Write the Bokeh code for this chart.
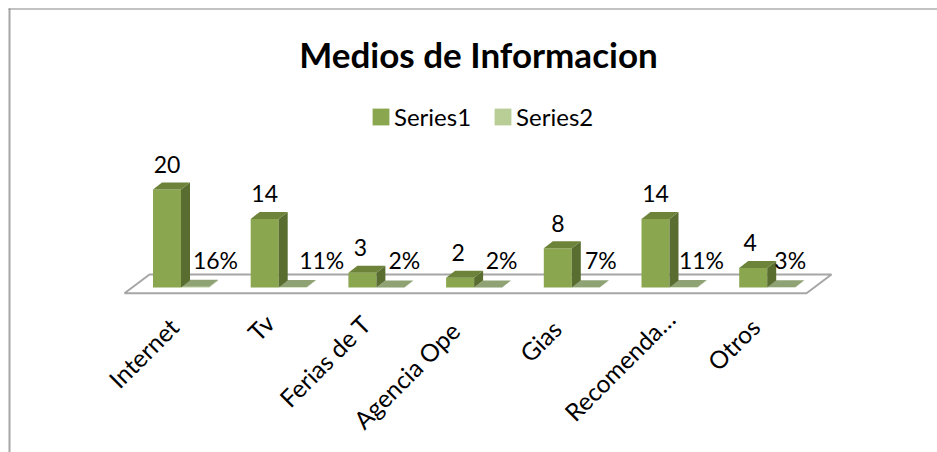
from bokeh.plotting import figure
from bokeh.models import Range1d, Legend, LegendItem
from bokeh.core.properties import value
from bokeh.embed import file_html
from bokeh.resources import INLINE

title_text = "Medios de Informacion"
categories = ["Internet", "Tv", "Ferias de T", "Agencia Ope", "Gias", "Recomenda…", "Otros"]
series1 = [20, 14, 3, 2, 8, 14, 4]
series2 = [0.16, 0.11, 0.02, 0.02, 0.07, 0.11, 0.03]
series2_labels = ["16%", "11%", "2%", "2%", "7%", "11%", "3%"]
series_names = ["Series1", "Series2"]

W, H = 937, 452
PX_X = 97.7   # px per category
PX_Y = 4.9    # px per unit
FONT = "Lato"

# hand placement of the labels, in pixels
s1_label_dx = [0, 0, -2, -2, 0, 0, -3]
s2_label_dx = [48.5, 57, 42, 41.5, 43, 46, 37]
cat_label_dx = [7, 5, 4, -5, -1, 15, 2]
cat_label_dy = [35, 31, 32, 39, 37, 27, 35]

def dx(px): return px / PX_X
def dy(px): return px / PX_Y
def page_x(px): return (px - 166.5) / PX_X
def page_y(px): return (287 - px) / PX_Y

p = figure(width=W, height=H, output_backend="svg", toolbar_location=None,
           x_range=Range1d(page_x(0), page_x(W)), y_range=Range1d(page_y(H), page_y(0)),
           min_border=0, outline_line_color=None, background_fill_color="white")
p.axis.visible = False
p.grid.visible = False

# chart border (top and left only)
p.line([page_x(9), page_x(9)], [page_y(8), page_y(H)], line_color="#a6a6a6", line_width=2)
p.line([page_x(8), page_x(W)], [page_y(8.5), page_y(8.5)], line_color="#868686", line_width=1)

# floor
fl, fr = page_x(124), page_x(806)
fdx, fy, by = dx(25), page_y(292.8), page_y(274)
p.patch([fl, fr, fr + fdx, fl + fdx], [fy, fy, by, by], fill_color="white",
        line_color="#a6a6a6", line_width=2)

bw = dx(28)
ox, oy = dx(9), dy(7)
xs = list(range(len(categories)))

def draw(vals, shift, front, side, top):
    lefts = [x - bw / 2 + shift for x in xs]
    r = p.quad(left=lefts, right=[l + bw for l in lefts], bottom=0, top=vals,
               fill_color=front, line_color=None)
    p.patches([[l + bw, l + bw + ox, l + bw + ox, l + bw] for l in lefts],
              [[0, oy, v + oy, v] for v in vals], fill_color=side, line_color=None)
    p.patches([[l, l + bw, l + bw + ox, l + ox] for l in lefts],
              [[v, v, v + oy, v + oy] for v in vals], fill_color=top, line_color=None)
    return r

r2 = draw(series2, bw, "#b9cd96", "#8ea274", "#8ea274")
r1 = draw(series1, 0, "#8aa64f", "#5a6d31", "#6c8339")

# data labels
p.text([x + dx(d) for x, d in zip(xs, s1_label_dx)], series1, text=[str(v) for v in series1],
       text_font=value(FONT), text_font_size="23px", text_color="#000000",
       text_align="center", text_baseline="middle", y_offset=-25)
p.text([x + dx(d) for x, d in zip(xs, s2_label_dx)], [0] * len(xs), text=series2_labels,
       text_font=value(FONT), text_font_size="23px", text_color="#000000",
       text_align="center", text_baseline="middle", y_offset=-28)

# category labels
p.text([x + dx(d) for x, d in zip(xs, cat_label_dx)], [dy(-d) for d in cat_label_dy],
       text=categories, text_font=value(FONT), text_font_size="24.5px", text_color="#000000",
       text_align="right", text_baseline="middle", angle=45, angle_units="deg")

# title
p.text([page_x(478)], [page_y(53)], text=[title_text], text_font=value(FONT),
       text_font_size="35px", text_font_style="bold", text_color="#000000",
       text_align="center", text_baseline="middle")

legend = Legend(items=[LegendItem(label=series_names[0], renderers=[r1]),
                       LegendItem(label=series_names[1], renderers=[r2])],
                orientation="horizontal", location=(370, 321), background_fill_alpha=0,
                border_line_color=None, glyph_width=21, glyph_height=21, label_text_font=FONT,
                label_text_font_size="24px", label_text_color="#000000", spacing=21,
                label_standoff=3, padding=0, margin=0)
p.add_layout(legend)

open("out.html", "w").write(file_html(p, INLINE))
